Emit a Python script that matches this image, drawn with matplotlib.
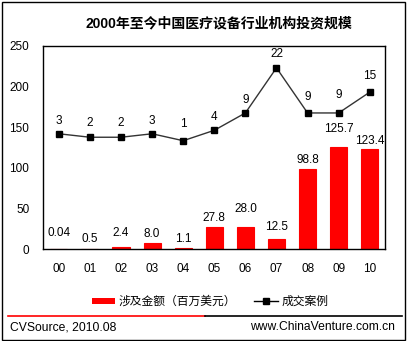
import matplotlib
matplotlib.use('Agg')
import matplotlib.pyplot as plt
from matplotlib.patches import Rectangle, Patch
from matplotlib.lines import Line2D

plt.rcParams['font.family'] = ['Liberation Sans', 'Noto Sans CJK SC', 'DejaVu Sans']

# 데이터
years = ['00', '01', '02', '03', '04', '05', '06', '07', '08', '09', '10']
amount = [0.04, 0.5, 2.4, 8.0, 1.1, 27.8, 28.0, 12.5, 98.8, 125.7, 123.4]
amount_labels = ['0.04', '0.5', '2.4', '8.0', '1.1', '27.8', '28.0', '12.5', '98.8', '125.7', '123.4']
deals = [3, 2, 2, 3, 1, 4, 9, 22, 9, 9, 15]
y_ticks = [0, 50, 100, 150, 200, 250]

# 라벨 위치 (픽셀 오프셋)
bar_off = [16, 10, 14, 9, 9, 9, 18, 12, 9, 18, 8]
line_off = [13, 14, 14, 13, 17, 13, 13, 14, 16, 18, 16]

W, H = 407, 341
fig = plt.figure(figsize=(W / 100, H / 100), dpi=100)
fig.patch.set_facecolor('white')

ax = fig.add_axes([43.3 / W, 1 - 249.3 / H, 342 / W, 203.3 / H])
x = list(range(len(years)))
ax.bar(x, amount, width=0.55, color='#FF0000', zorder=2,
       edgecolor='#FF0000', linewidth=0.8)  # 아주 작은 막대도 보이게
ax.set_xlim(-0.5, 10.5)
ax.set_ylim(0, 250)
ax.set_yticks(y_ticks)
ax.set_xticks(x)
ax.set_xticklabels(years)
ax.tick_params(length=0, labelsize=8.5)
ax.tick_params(axis='y', pad=10)
ax.tick_params(axis='x', pad=10)
for s in ax.spines.values():
    s.set_linewidth(1)
    s.set_color('black')
    s.set_zorder(3)

for i, v in enumerate(amount):
    ax.annotate(amount_labels[i], (i, v), xytext=(0, bar_off[i] * 0.72),
                textcoords='offset points', ha='center', va='center', fontsize=8.5)

# 성교안례 (보조축)
ax2 = ax.twinx()
ax2.plot(x, deals, color='#333333', lw=1, marker='s', markersize=4.5,
         markerfacecolor='black', markeredgecolor='black', zorder=3)
ax2.set_ylim(-30.3, 28.3)
ax2.set_yticks([])
for s in ax2.spines.values():
    s.set_visible(False)
for i, v in enumerate(deals):
    ax2.annotate(str(v), (i, v), xytext=(0, line_off[i] * 0.72),
                 textcoords='offset points', ha='center', va='center', fontsize=8.5)

fig.text(219 / W, 1 - 23 / H, '2000年至今中国医疗设备行业机构投资规模',
         ha='center', va='center', fontsize=10, fontweight='bold')

handles = [Patch(facecolor='#FF0000', edgecolor='none'),
           Line2D([0], [0], color='black', lw=1, marker='s', markersize=4.5)]
fig.legend(handles, ['涉及金额（百万美元）', '成交案例'], ncol=2, frameon=False,
           loc='center', bbox_to_anchor=(210 / W, 1 - 302 / H), fontsize=8.5,
           handlelength=2.0, handleheight=0.45, handletextpad=0.3, columnspacing=1.5)

# 구분선, 테두리
fig.add_artist(Line2D([8 / W, 205 / W], [1 - 315.5 / H] * 2, color='#FF0000', lw=1.2))
fig.add_artist(Line2D([205 / W, 402 / W], [1 - 315.5 / H] * 2, color='black', lw=1.2))
fig.add_artist(Rectangle((1.5 / W, 1.5 / H), 403.5 / W, 338 / H, fill=False,
                         edgecolor='black', lw=1, transform=fig.transFigure))

fig.text(10 / W, 1 - 327 / H, 'CVSource, 2010.08', ha='left', va='center', fontsize=8.7)
fig.text(395 / W, 1 - 327 / H, 'www.ChinaVenture.com.cn', ha='right', va='center', fontsize=8.7)

fig.savefig('out.png', dpi=100)
